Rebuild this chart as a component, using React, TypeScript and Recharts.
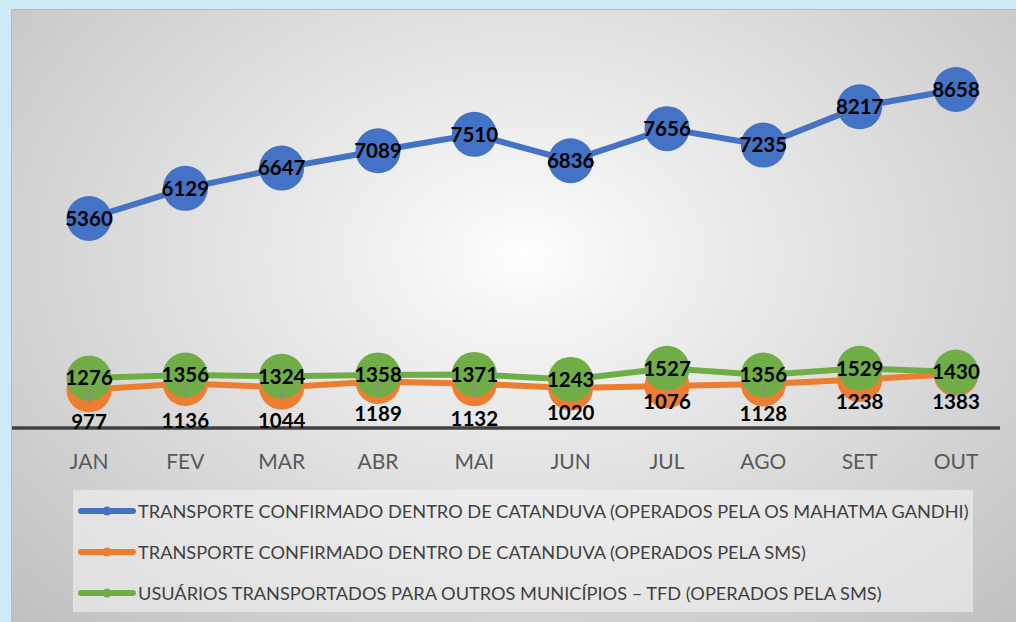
import { LineChart, Line, XAxis, YAxis, LabelList } from "recharts"

// Monthly values
const months = ["JAN", "FEV", "MAR", "ABR", "MAI", "JUN", "JUL", "AGO", "SET", "OUT"]
const gandhiValues = [5360, 6129, 6647, 7089, 7510, 6836, 7656, 7235, 8217, 8658]
const smsValues = [977, 1136, 1044, 1189, 1132, 1020, 1076, 1128, 1238, 1383]
const tfdValues = [1276, 1356, 1324, 1358, 1371, 1243, 1527, 1356, 1529, 1430]

const seriesNames = [
  "TRANSPORTE CONFIRMADO DENTRO DE CATANDUVA (OPERADOS PELA OS MAHATMA GANDHI)",
  "TRANSPORTE CONFIRMADO DENTRO DE CATANDUVA (OPERADOS PELA SMS)",
  "USUÁRIOS TRANSPORTADOS PARA OUTROS MUNICÍPIOS – TFD (OPERADOS PELA SMS)",
]

const BLUE = "#4472c4"
const ORANGE = "#ed7d31"
const GREEN = "#70ad47"
const colors = [BLUE, ORANGE, GREEN]

// how far below its point each orange label sits (px), as placed in the original
const smsLabelOffsets = [32, 37, 33, 32, 35, 25, 16, 30, 22, 28]

const data = months.map((m, i) => ({
  month: m,
  gandhi: gandhiValues[i],
  sms: smsValues[i],
  tfd: tfdValues[i],
}))

const FONT = "Lato, 'Open Sans', sans-serif"

// centered bold value label
const CenterLabel = (props: any) => {
  const { x, y, value } = props
  return (
    <text
      x={x}
      y={y}
      dy="0.36em"
      textAnchor="middle"
      fontFamily={FONT}
      fontWeight={700}
      fontSize={20.5}
      fill="#000"
    >
      {value}
    </text>
  )
}

// orange labels sit below the point, some with a short leader line
const BelowLabel = (props: any) => {
  const { x, y, value, index } = props
  const off = smsLabelOffsets[index] ?? 30
  return (
    <g>
      {off >= 30 && (
        <line x1={x} y1={y} x2={x} y2={y + 13} stroke="#8c8c8c" strokeWidth={2} />
      )}
      <text
        x={x}
        y={y + off}
        dy="0.36em"
        textAnchor="middle"
        fontFamily={FONT}
        fontWeight={700}
        fontSize={20.5}
        fill="#000"
      >
        {value}
      </text>
    </g>
  )
}

export default function App() {
  return (
    <div
      style={{
        position: "absolute",
        left: 0,
        top: 0,
        width: 1016,
        height: 622,
        background: "#cdebf6",
        overflow: "hidden",
      }}
    >
      {/* chart area with radial grey gradient */}
      <div
        style={{
          position: "absolute",
          left: 11,
          top: 9,
          width: 1005,
          height: 613,
          borderTop: "1px solid #b9b9b9",
          borderLeft: "1px solid #b9b9b9",
          boxSizing: "border-box",
          background:
            "radial-gradient(ellipse at 51% 40%, #ffffff 0%, #f4f4f4 14%, #c0c0c0 100%)",
        }}
      />

      <div style={{ position: "absolute", left: 0, top: 0 }}>
        <LineChart
          width={1016}
          height={622}
          data={data}
          margin={{ top: 37, right: 16, bottom: 144, left: 12 }}
        >
          <XAxis
            dataKey="month"
            padding={{ left: 77, right: 44 }}
            axisLine={{ stroke: "#404040", strokeWidth: 3.5 }}
            tickLine={false}
            tickMargin={20}
            height={50}
            tick={{ fill: "#595959", fontSize: 21, fontFamily: FONT }}
          />
          <YAxis hide domain={[0, 10000]} />

          <Line
            dataKey="gandhi"
            stroke={BLUE}
            strokeWidth={6}
            dot={{ r: 22.5, fill: BLUE, stroke: "none" }}
            activeDot={false}
            isAnimationActive={false}
          >
            <LabelList dataKey="gandhi" content={CenterLabel} />
          </Line>
          <Line
            dataKey="sms"
            stroke={ORANGE}
            strokeWidth={6}
            dot={{ r: 22.5, fill: ORANGE, stroke: "none" }}
            activeDot={false}
            isAnimationActive={false}
          />
          <Line
            dataKey="tfd"
            stroke={GREEN}
            strokeWidth={6}
            dot={{ r: 22.5, fill: GREEN, stroke: "none" }}
            activeDot={false}
            isAnimationActive={false}
          >
            <LabelList dataKey="tfd" content={CenterLabel} />
          </Line>
          {/* orange labels drawn last, on top of green markers */}
          <Line
            dataKey="sms"
            stroke="none"
            dot={false}
            activeDot={false}
            legendType="none"
            isAnimationActive={false}
          >
            <LabelList dataKey="sms" content={BelowLabel} />
          </Line>
        </LineChart>
      </div>

      {/* legend box */}
      <div
        style={{
          position: "absolute",
          left: 73,
          top: 490,
          width: 900,
          height: 122,
          background: "rgba(246,246,246,0.55)",
        }}
      >
        {seriesNames.map((name, i) => (
          <div
            key={name}
            style={{
              position: "absolute",
              left: 0,
              top: 21 + i * 41 - 12,
              height: 24,
              display: "flex",
              alignItems: "center",
            }}
          >
            <svg width={65} height={24} style={{ display: "block" }}>
              <line
                x1={8}
                y1={12}
                x2={60}
                y2={12}
                stroke={colors[i]}
                strokeWidth={6}
                strokeLinecap="round"
              />
              <circle cx={34} cy={12} r={4.5} fill={colors[i]} />
            </svg>
            <span
              style={{
                fontFamily: FONT,
                fontSize: 18.2,
                color: "#404040",
                whiteSpace: "nowrap",
              }}
            >
              {name}
            </span>
          </div>
        ))}
      </div>
    </div>
  )
}
